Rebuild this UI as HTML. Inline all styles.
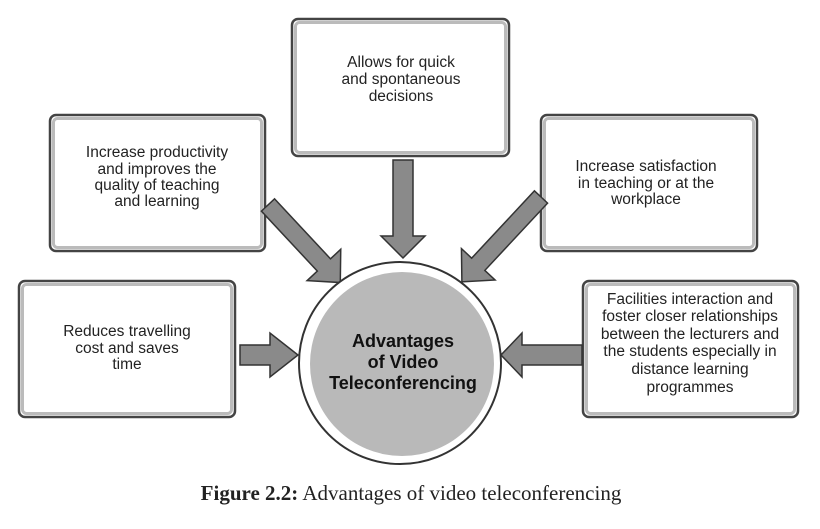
<!DOCTYPE html>
<html><head><style>body{margin:0;background:#fff}svg{display:block}</style></head><body>
<svg width="820" height="529" viewBox="0 0 820 529" xmlns="http://www.w3.org/2000/svg">
<g font-family="Liberation Sans, sans-serif" font-size="16" fill="#222" text-anchor="middle">
<g stroke="#444" stroke-width="2.5" fill="#fff">
<rect x="292" y="19" width="217" height="137" rx="6"/>
<rect x="50" y="115" width="215" height="136" rx="6"/>
<rect x="541" y="115" width="216" height="136" rx="6"/>
<rect x="19" y="281" width="216" height="136" rx="6"/>
<rect x="583" y="281" width="215" height="136" rx="6"/>
</g>
<g fill="none" stroke="#bbb" stroke-width="3">
<rect x="295.5" y="22.5" width="210" height="130" rx="4"/>
<rect x="53.5" y="118.5" width="208" height="129" rx="4"/>
<rect x="544.5" y="118.5" width="209" height="129" rx="4"/>
<rect x="22.5" y="284.5" width="209" height="129" rx="4"/>
<rect x="586.5" y="284.5" width="208" height="129" rx="4"/>
</g>
<g fill="#8a8a8a" stroke="#333" stroke-width="1.5">
<polygon points="393,160 413,160 413,236 425,236 403,258 381,236 393,236"/>
<polygon points="240,345 270,345 270,333 298,355 270,377 270,365 240,365"/>
<polygon points="582,345 522,345 522,333 501,355 522,377 522,365 582,365"/>
<polygon transform="translate(268,205) rotate(47)" points="0,-9 82,-9 82,-23 106,0 82,23 82,9 0,9"/>
<polygon transform="translate(541,197) rotate(133)" points="0,-9 92,-9 92,-23 116,0 92,23 92,9 0,9"/>
</g>
<circle cx="400" cy="363" r="101" fill="#fff" stroke="#333" stroke-width="2"/>
<circle cx="402" cy="364" r="92" fill="#b9b9b9"/>
<g font-weight="bold" font-size="18" fill="#111">
<text x="403" y="347">Advantages</text>
<text x="403" y="368">of Video</text>
<text x="403" y="389">Teleconferencing</text>
</g>
<g font-size="15.5">
<text x="401" y="67">Allows for quick</text>
<text x="401" y="84">and spontaneous</text>
<text x="401" y="101">decisions</text>
<text x="157" y="157">Increase productivity</text>
<text x="157" y="174">and improves the</text>
<text x="157" y="190">quality of teaching</text>
<text x="157" y="206">and learning</text>
<text x="646" y="171">Increase satisfaction</text>
<text x="646" y="188">in teaching or at the</text>
<text x="646" y="204">workplace</text>
<text x="127" y="336">Reduces travelling</text>
<text x="127" y="353">cost and saves</text>
<text x="127" y="369">time</text>
<text x="690" y="304">Facilities interaction and</text>
<text x="690" y="321">foster closer relationships</text>
<text x="690" y="339">between the lecturers and</text>
<text x="690" y="356">the students especially in</text>
<text x="690" y="374">distance learning</text>
<text x="690" y="392">programmes</text>
</g>
</g>
<text x="411" y="500" text-anchor="middle" font-family="Liberation Serif, serif" font-size="21" fill="#222"><tspan font-weight="bold">Figure 2.2:</tspan> Advantages of video teleconferencing</text>
</svg>
</body></html>
